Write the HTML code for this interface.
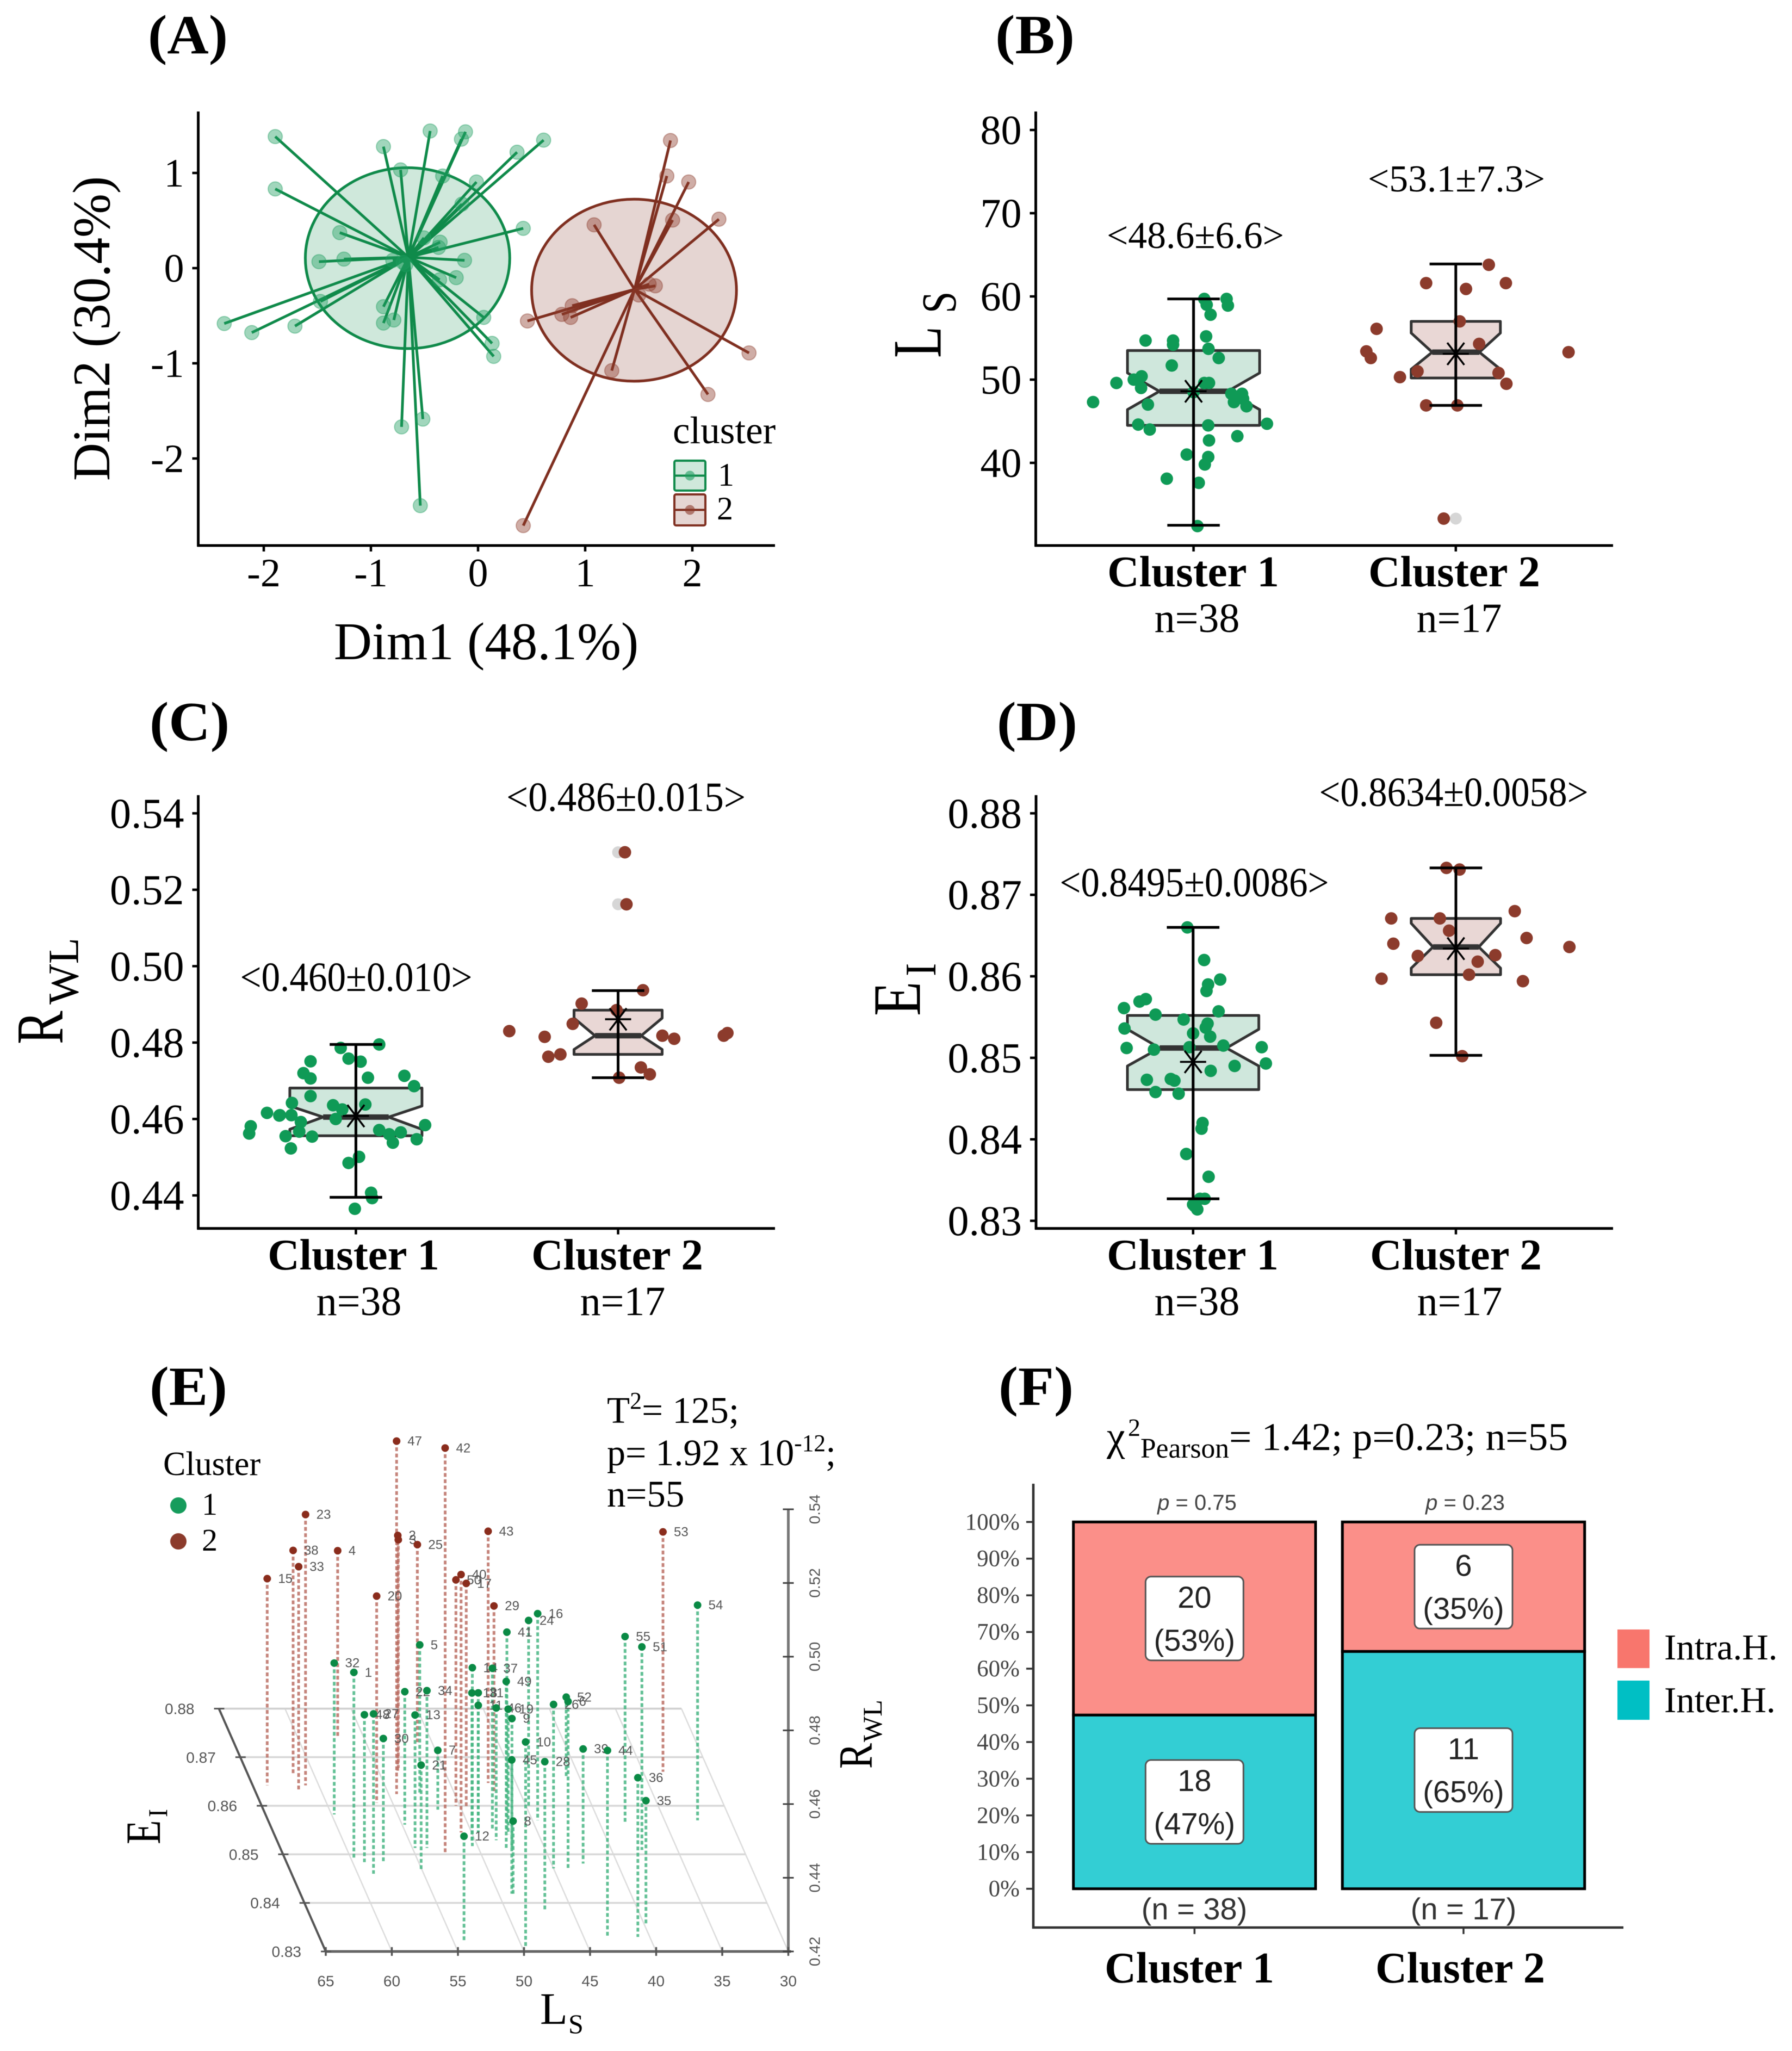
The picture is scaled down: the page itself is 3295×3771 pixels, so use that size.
<!DOCTYPE html>
<html lang="en">
<head>
<meta charset="utf-8">
<title>Cluster analysis figure</title>
<style>
html,body{margin:0;padding:0;background:#fff;}
svg{display:block;filter:blur(0.7px);}
text{font-family:"Liberation Serif","DejaVu Serif",serif;fill:#000;}
.b{font-weight:bold;}
.sans,.sans tspan{font-family:"Liberation Sans","DejaVu Sans",sans-serif;}
</style>
</head>
<body>
<svg id="fig" xmlns="http://www.w3.org/2000/svg" width="3295" height="3771" viewBox="0 0 3295 3771">
<rect width="3295" height="3771" fill="#fff"/>

<g id="panelA">
  <text class="b" x="272" y="98" font-size="102" textLength="147" lengthAdjust="spacingAndGlyphs">(A)</text>
  <text x="894" y="1212" font-size="97" text-anchor="middle">Dim1 (48.1%)</text>
  <text transform="translate(201,604) rotate(-90)" font-size="97" text-anchor="middle">Dim2 (30.4%)</text>
  <text x="1237" y="815" font-size="71">cluster</text>
  <text x="1320" y="893" font-size="60">1</text>
  <text x="1318" y="955" font-size="60">2</text>
</g>

<g id="panelB">
  <text class="b" x="1830" y="98" font-size="102" textLength="146" lengthAdjust="spacingAndGlyphs">(B)</text>
  <text transform="translate(1729.5,658) rotate(-90) scale(.75,1)" font-size="127">L</text>
  <text transform="translate(1757,576) rotate(-90) scale(.8,1)" font-size="90">S</text>
  <text x="2198" y="456" font-size="70" text-anchor="middle" textLength="326" lengthAdjust="spacingAndGlyphs">&lt;48.6±6.6&gt;</text>
  <text x="2678" y="352" font-size="70" text-anchor="middle" textLength="326" lengthAdjust="spacingAndGlyphs">&lt;53.1±7.3&gt;</text>
  <text class="b" x="2194" y="1078" font-size="81" text-anchor="middle">Cluster 1</text>
  <text class="b" x="2674" y="1078" font-size="81" text-anchor="middle">Cluster 2</text>
  <text x="2201" y="1162" font-size="76" text-anchor="middle">n=38</text>
  <text x="2683" y="1162" font-size="76" text-anchor="middle">n=17</text>
</g>

<g id="panelC">
  <text class="b" x="275" y="1361" font-size="102" textLength="147" lengthAdjust="spacingAndGlyphs">(C)</text>
  <text transform="translate(115,1920) rotate(-90) scale(.75,1)" font-size="123">R</text>
  <text transform="translate(143.5,1847) rotate(-90)" font-size="79">WL</text>
  <text x="655" y="1822" font-size="76" text-anchor="middle" textLength="427" lengthAdjust="spacingAndGlyphs">&lt;0.460±0.010&gt;</text>
  <text x="1151" y="1491" font-size="76" text-anchor="middle" textLength="440" lengthAdjust="spacingAndGlyphs">&lt;0.486±0.015&gt;</text>
  <text class="b" x="650" y="2334" font-size="81" text-anchor="middle">Cluster 1</text>
  <text class="b" x="1135" y="2334" font-size="81" text-anchor="middle">Cluster 2</text>
  <text x="660" y="2418" font-size="76" text-anchor="middle">n=38</text>
  <text x="1145" y="2418" font-size="76" text-anchor="middle">n=17</text>
</g>

<g id="panelD">
  <text class="b" x="1833" y="1361" font-size="102" textLength="148" lengthAdjust="spacingAndGlyphs">(D)</text>
  <text transform="translate(1691.6,1868) rotate(-90) scale(.83,1)" font-size="125">E</text>
  <text transform="translate(1720,1795) rotate(-90) scale(.9,1)" font-size="81">I</text>
  <text x="2196" y="1648" font-size="76" text-anchor="middle" textLength="495" lengthAdjust="spacingAndGlyphs">&lt;0.8495±0.0086&gt;</text>
  <text x="2673" y="1482" font-size="76" text-anchor="middle" textLength="495" lengthAdjust="spacingAndGlyphs">&lt;0.8634±0.0058&gt;</text>
  <text class="b" x="2193" y="2334" font-size="81" text-anchor="middle">Cluster 1</text>
  <text class="b" x="2677" y="2334" font-size="81" text-anchor="middle">Cluster 2</text>
  <text x="2201" y="2418" font-size="76" text-anchor="middle">n=38</text>
  <text x="2684" y="2418" font-size="76" text-anchor="middle">n=17</text>
</g>

<g id="panelE">
  <text class="b" x="275" y="2583" font-size="102" textLength="143" lengthAdjust="spacingAndGlyphs">(E)</text>
  <text x="300" y="2712" font-size="62">Cluster</text>
  <circle cx="328" cy="2768" r="15" fill="#169c5c"/>
  <circle cx="328" cy="2834" r="15" fill="#8c3b2c"/>
  <text x="371" y="2785" font-size="58">1</text>
  <text x="371" y="2851" font-size="58">2</text>
  <g>
    <text x="1116" y="2616" font-size="69">T<tspan font-size="44" dy="-26">2</tspan><tspan dy="26">= 125;</tspan></text>
    <text x="1116" y="2694" font-size="69" textLength="421" lengthAdjust="spacingAndGlyphs">p= 1.92 x 10<tspan font-size="44" dy="-26">-12</tspan><tspan dy="26">;</tspan></text>
    <text x="1116" y="2770" font-size="69">n=55</text>
  </g>
  <text transform="translate(293.8,3391) rotate(-90) scale(.8,1)" font-size="91">E</text>
  <text transform="translate(307,3341) rotate(-90) scale(.9,1)" font-size="50">I</text>
  <text x="993" y="3721" font-size="83">L</text>
  <text x="1045" y="3738" font-size="50">S</text>
  <text transform="translate(1603,3252) rotate(-90) scale(.8,1)" font-size="88">R</text>
  <text transform="translate(1621,3203) rotate(-90)" font-size="50">WL</text>
</g>

<g id="panelF">
  <text class="b" x="1836" y="2583" font-size="102" textLength="138" lengthAdjust="spacingAndGlyphs">(F)</text>
  <g>
    <text x="2035" y="2666" font-size="76">χ</text>
    <text x="2074" y="2640" font-size="46">2</text>
    <text x="2097" y="2680" font-size="52" textLength="163" lengthAdjust="spacingAndGlyphs">Pearson</text>
    <text x="2260" y="2666" font-size="72" textLength="623" lengthAdjust="spacingAndGlyphs">= 1.42; p=0.23; n=55</text>
  </g>
  <text class="b" x="2187" y="3645" font-size="80" text-anchor="middle">Cluster 1</text>
  <text class="b" x="2685" y="3645" font-size="80" text-anchor="middle">Cluster 2</text>
  <text class="sans" x="2201" y="2776" font-size="40" text-anchor="middle" style="fill:#444"><tspan font-style="italic">p</tspan> = 0.75</text>
  <text class="sans" x="2694" y="2776" font-size="40" text-anchor="middle" style="fill:#444"><tspan font-style="italic">p</tspan> = 0.23</text>
  <text class="sans" x="2196" y="3529" font-size="56" text-anchor="middle" style="fill:#333">(n = 38)</text>
  <text class="sans" x="2691" y="3529" font-size="56" text-anchor="middle" style="fill:#333">(n = 17)</text>
  <rect x="2974" y="2996" width="59" height="71" fill="#f8766d"/>
  <rect x="2974" y="3090" width="59" height="72" fill="#00bfc4"/>
  <text x="3060" y="3051" font-size="67">Intra.H.</text>
  <text x="3060" y="3148" font-size="67">Inter.H.</text>
</g>
</svg>

<script>
// ---------- Panel A data (PCA scores: Dim1, Dim2) ----------
const aXTicks = [-2, -1, 0, 1, 2];
const aYTicks = [1, 0, -1, -2];
const aCenter1 = [-0.65, 0.114];
const aCenter2 = [1.461, -0.223];
const aEllipse1 = [-0.658, 0.105, 0.954, 0.95];
const aEllipse2 = [1.456, -0.232, 0.956, 0.956];
const aPoints1 = [[-1.893,1.382],[-1.893,0.832],[-0.883,1.277],[-0.723,1.032],[-0.447,1.441],[-0.117,1.432],[-0.155,1.355],[-0.33,0.968],[-0.015,0.905],[0.364,1.218],[0.612,1.345],[-0.15,0.673],[0.422,0.418],[-1.291,0.373],[-1.485,0.068],[-1.252,0.095],[-0.126,0.082],[-0.204,-0.1],[-0.359,-0.123],[-0.505,0.318],[-0.354,0.273],[-0.369,0.218],[-0.796,0.082],[-0.699,0.059],[-1.471,-0.35],[-2.369,-0.582],[-2.112,-0.677],[-1.709,-0.609],[-0.883,-0.405],[-0.883,-0.577],[-0.786,-0.545],[0.053,-0.518],[0.131,-0.791],[0.146,-0.927],[-0.714,-1.668],[-0.515,-1.586],[-0.539,-2.495],[-0.675,0.036]];
const aPoints2 = [[1.796,1.341],[1.762,0.968],[1.966,0.905],[1.816,0.505],[2.248,0.514],[1.083,0.455],[1.655,-0.186],[1.597,-0.168],[1.5,-0.282],[0.461,-0.555],[0.782,-0.486],[0.879,-0.395],[0.864,-0.518],[2.529,-0.891],[1.248,-1.077],[2.146,-1.327],[0.422,-2.705]];

// ---------- Panel B data: [jitter, Ls] ----------
const bTicks = [80, 70, 60, 50, 40];
const bPoints1 = [[-.383,47.3],[-.294,49.6],[-.228,50.0],[-.198,50.4],[-.2,49.0],[-.174,47.0],[-.211,44.6],[-.167,44.0],[-.183,54.7],[-.078,54.7],[-.078,54.2],[-.083,51.7],[-.102,38.1],[-.026,41.0],[.015,32.4],[.02,37.6],[.043,39.8],[.056,40.7],[.059,42.7],[.056,44.5],[.041,59.7],[.05,59.0],[.065,57.8],[.126,59.7],[.131,58.9],[.048,55.2],[.057,53.7],[.096,52.6],[.059,49.6],[.041,49.6],[.144,48.3],[.185,48.3],[.154,47.3],[.189,47.7],[.202,46.8],[.28,44.7],[.167,43.2],[0,48.5]];
const bPoints2 = [[.126,63.8],[-.113,61.6],[.191,61.6],[.039,60.9],[.015,57.0],[-.302,56.1],[.089,54.3],[.43,53.3],[-.341,53.4],[-.324,52.6],[-.146,51.0],[-.213,50.3],[.163,50.8],[.193,49.5],[-.113,46.9],[.006,46.9],[-.046,33.3]];
const bOutliers2 = [33.3];
// box stats: q1, notchLow, median, notchHigh, q3, whiskerLow, whiskerHigh, mean
const bBox1 = [44.5, 46.4, 48.6, 50.8, 53.5, 32.5, 59.7, 48.6];
const bBox2 = [50.2, 51.25, 53.3, 55.6, 57.0, 46.9, 63.9, 53.1];

// ---------- Panel C data: [jitter, Rwl] ----------
const cTicks = ["0.54", "0.52", "0.50", "0.48", "0.46", "0.44"];
const cPoints1 = [[-.401,.4581],[-.407,.4562],[-.339,.4616],[-.29,.4610],[-.246,.4610],[-.244,.4642],[-.173,.4660],[-.173,.4751],[-.2,.4720],[-.173,.4706],[-.058,.4786],[-.028,.4758],[.018,.4750],[.089,.4795],[.046,.4708],[.185,.4713],[.222,.4686],[.036,.4638],[-.087,.4636],[-.052,.4625],[-.077,.4600],[-.21,.4592],[-.216,.4567],[-.268,.4555],[-.167,.4554],[-.248,.4523],[.089,.4571],[.127,.4560],[.171,.4565],[.141,.4538],[.232,.4547],[.264,.4584],[.012,.4501],[-.028,.4485],[.058,.4407],[.062,.4393],[-.004,.4365],[-.292,.4609]];
const cPoints2 = [[.026,.5298],[.032,.5162],[.095,.4937],[-.139,.4902],[-.006,.4885],[-.173,.4849],[-.415,.4830],[-.28,.4815],[-.266,.4763],[-.22,.4769],[.169,.4818],[.214,.4810],[.403,.4818],[.417,.4825],[.087,.4735],[.121,.4717],[.004,.4708]];
const cOutliers2 = [.5298, .5162];
const cBox1 = [.4556, .4573, .4605, .4634, .4681, .4395, .4795, .4608];
const cBox2 = [.4769, .4782, .4818, .4864, .4885, .4708, .4936, .4861];

// ---------- Panel D data: [jitter, Ei] ----------
const dTicks = ["0.88", "0.87", "0.86", "0.85", "0.84", "0.83"];
const dPoints1 = [[-.022,.8660],[.042,.8620],[.103,.8596],[.057,.8590],[.051,.8582],[-.18,.8572],[-.204,.8569],[-.263,.8561],[-.143,.8553],[.097,.8557],[-.036,.8547],[-.261,.8536],[.055,.8542],[.048,.8537],[0,.8530],[.065,.8526],[-.253,.8512],[-.149,.8510],[-.014,.8513],[.115,.8515],[.261,.8513],[.277,.8493],[.158,.8490],[.067,.8484],[-.176,.8473],[-.085,.8474],[-.071,.8472],[-.143,.8458],[-.055,.8456],[.036,.8420],[.032,.8413],[-.026,.8382],[.059,.8354],[.044,.8327],[0,.8320],[.016,.8314],[.026,.8327],[.006,.8318]];
const dPoints2 = [[-.036,.8733],[.014,.8731],[.224,.8680],[-.246,.8671],[-.061,.8671],[-.026,.8656],[-.238,.8640],[.269,.8647],[.432,.8636],[-.145,.8625],[.15,.8626],[.083,.8618],[.05,.8602],[-.283,.8597],[.255,.8594],[-.075,.8543],[.024,.8502]];
const dBox1 = [.8461, .8490, .8512, .8535, .8552, .8327, .8660, .8495];
const dBox2 = [.8602, .8610, .8636, .8665, .8671, .8503, .8733, .8634];

// ---------- Panel E data: [id, Ls, Ei, Rwl] ----------
const eLsTicks = [65, 60, 55, 50, 45, 40, 35, 30];
const eEiTicks = ["0.83", "0.84", "0.85", "0.86", "0.87", "0.88"];
const eRwlTicks = ["0.42", "0.44", "0.46", "0.48", "0.50", "0.52", "0.54"];
const ePoints2 = [["15",63.9,.8642,.4761],["38",61.6,.8663,.4810],["33",61.7,.8631,.4808],["23",61.0,.8642,.4935],["4",57.0,.8739,.4709],["20",56.2,.8606,.4761],["47",54.4,.8624,.5158],["2",53.6,.8668,.4844],["3",53.4,.8678,.4819],["25",51.1,.8731,.4736],["42",52.7,.8502,.5300],["50",50.3,.8600,.4813],["40",50.8,.8545,.4900],["17",49.6,.8595,.4810],["43",47.1,.8647,.4883],["29",47.0,.8626,.4708],["53",33.5,.8670,.4851]];
const ePoints1 = [["32",59.8,.8582,.4611],["1",59.8,.8490,.4707],["48",59.1,.8484,.4600],["27",58.8,.8460,.4634],["30",57.7,.8482,.4538],["5",52.6,.8627,.4601],["22",54.8,.8561,.4561],["34",53.9,.8513,.4627],["13",54.8,.8513,.4561],["7",51.8,.8592,.4361],["21",55.1,.8466,.4487],["12",54.2,.8321,.4485],["14",50.4,.8517,.4684],["18",50.3,.8525,.4605],["31",49.5,.8545,.4579],["11",49.5,.8545,.4545],["37",48.3,.8553,.4635],["49",47.9,.8513,.4652],["46",48.4,.8529,.4559],["19",47.3,.8541,.4540],["9",47.5,.8511,.4554],["45",49.0,.8419,.4563],["8",48.9,.8419,.4397],["10",49.7,.8311,.4754],["41",47.3,.8547,.4741],["24",44.8,.8600,.4703],["16",44.6,.8570,.4761],["26",45.0,.8471,.4645],["52",41.0,.8659,.4417],["28",47.1,.8382,.4607],["6",43.9,.8471,.4653],["39",42.6,.8481,.4511],["44",43.2,.8330,.4706],["55",38.1,.8563,.4708],["51",37.7,.8509,.4751],["36",40.9,.8330,.4632],["35",39.9,.8354,.4538],["54",32.5,.8570,.4784]];

// ---------- Panel F data ----------
const fTicks = [0, 10, 20, 30, 40, 50, 60, 70, 80, 90, 100];
const fIntra = [20, 6];
const fInter = [18, 11];

// ---------- helpers ----------
const NS = 'http://www.w3.org/2000/svg';
const GREEN = '#0f9a56', BROWN = '#8c3b2c';
function mk(parent, tag, attrs, name, txt) {
  const el = document.createElementNS(NS, tag);
  for (const k in attrs) el.setAttribute(k, attrs[k]);
  
  
  if (txt !== undefined) el.textContent = txt;
  parent.appendChild(el);
  return el;
}
function line(p, x1, y1, x2, y2, stroke, w, name, extra) {
  return mk(p, 'line', Object.assign({x1, y1, x2, y2, stroke, 'stroke-width': w}, extra || {}), name);
}
const panel = id => document.getElementById(id);

function axes(p, x0, top, yb, right) {
  line(p, x0, top, x0, yb + 2, '#000', 5, 'y-axis-line');
  line(p, x0 - 2, yb, right, yb, '#000', 5, 'x-axis-line');
}
function yTick(p, x0, y, label, size) {
  line(p, x0 - 11, y, x0, y, '#000', 4.5, 'y-tick');
  mk(p, 'text', {x: x0 - 26, y: y + size * .34, 'font-size': size, 'text-anchor': 'end'}, 'y-tick-label', label);
}

// ---------- Panel A ----------
(function () {
  const p = panel('panelA');
  const x = v => 879 + 197 * v;
  const y = v => 493 - 175 * v;
  const sx = 197, sy = 175;
  axes(p, 364.5, 205, 1003, 1425);
  aXTicks.forEach(t => {
    line(p, x(t), 1003, x(t), 1014, '#000', 4.5, 'x-tick');
    mk(p, 'text', {x: x(t), y: 1078, 'font-size': 74, 'text-anchor': 'middle'}, 'x-tick-label', String(t));
  });
  aYTicks.forEach(t => yTick(p, 364.5, y(t), String(t), 74));
  function cluster(pts, c, e, col, pointFill, nm) {
    mk(p, 'ellipse', {cx: x(e[0]), cy: y(e[1]), rx: e[2] * sx, ry: e[3] * sy, fill: col, 'fill-opacity': .2, stroke: col, 'stroke-width': 5}, nm + '-ellipse');
    pts.forEach(d => {
      line(p, x(c[0]), y(c[1]), x(d[0]), y(d[1]), col, 5, nm + '-spoke');
    });
    pts.forEach(d => {
      mk(p, 'circle', {cx: x(d[0]), cy: y(d[1]), r: 13, fill: pointFill, 'fill-opacity': .42, stroke: pointFill, 'stroke-opacity': .4, 'stroke-width': 2}, nm + '-point');
    });
  }
  cluster(aPoints1, aCenter1, aEllipse1, '#0f8a4a', '#1f9d60', 'cluster-1');
  cluster(aPoints2, aCenter2, aEllipse2, '#7f2f20', '#8c3b2c', 'cluster-2');
  // legend keys
  [[847, 55, '#0f8a4a', '#1f9d60', 'legend-key-1'], [909, 57, '#7f2f20', '#8c3b2c', 'legend-key-2']].forEach(k => {
    mk(p, 'rect', {x: 1240, y: k[0], width: 57, height: k[1], rx: 3, fill: k[2], 'fill-opacity': .2, stroke: k[2], 'stroke-width': 4}, k[4]);
    line(p, 1240, k[0] + k[1] / 2, 1297, k[0] + k[1] / 2, k[2], 4, k[4] + '-line');
    mk(p, 'circle', {cx: 1268.5, cy: k[0] + k[1] / 2, r: 9, fill: k[3], 'fill-opacity': .6}, k[4] + '-dot');
  });
})();

// ---------- Box panels ----------
function boxPanel(cfg) {
  const p = panel(cfg.id);
  const y = cfg.y;
  axes(p, cfg.x0, cfg.top, cfg.yb, cfg.right);
  cfg.ticks.forEach(t => yTick(p, cfg.x0, y(parseFloat(t)), String(t), cfg.tickSize));
  [cfg.cx1, cfg.cx2].forEach(cx => line(p, cx, cfg.yb, cx, cfg.yb + 11, '#000', 4.5, 'x-tick'));
  const unit = cfg.cx2 - cfg.cx1;
  function box(cx, b, hw, nw, fill, nm, pts, col, out) {
    const [q1, nlo, med, nhi, q3, wlo, whi, mean] = b;
    const l = cx - hw * unit, r = cx + hw * unit, nl = cx - nw * unit, nr = cx + nw * unit;
    const cap = 0.1 * unit;
    const d = `M${l},${y(q3)}L${r},${y(q3)}L${r},${y(nhi)}L${nr},${y(med)}L${r},${y(nlo)}L${r},${y(q1)}L${l},${y(q1)}L${l},${y(nlo)}L${nl},${y(med)}L${l},${y(nhi)}Z`;
    mk(p, 'path', {d, fill, stroke: '#333', 'stroke-width': 5, 'stroke-linejoin': 'round'}, nm + '-box');
    line(p, nl, y(med), nr, y(med), '#333', 10, nm + '-median');
    (out || []).forEach(v => mk(p, 'circle', {cx, cy: y(v), r: 11, fill: '#d6d6d6'}, nm + '-outlier'));
    pts.forEach(d2 => mk(p, 'circle', {cx: cx + d2[0] * unit, cy: y(d2[1]), r: 11.5, fill: col}, nm + '-point'));
    line(p, cx, y(wlo), cx, y(whi), '#000', 5, nm + '-whisker');
    line(p, cx - cap, y(whi), cx + cap, y(whi), '#000', 5, nm + '-cap-high');
    line(p, cx - cap, y(wlo), cx + cap, y(wlo), '#000', 5, nm + '-cap-low');
    const m = y(mean), s = 24;
    line(p, cx - s, m, cx + s, m, '#000', 3.5, nm + '-mean-marker');
    line(p, cx - s * .65, m - s * .85, cx + s * .65, m + s * .85, '#000', 3.5, nm + '-mean-marker');
    line(p, cx - s * .65, m + s * .85, cx + s * .65, m - s * .85, '#000', 3.5, nm + '-mean-marker');
  }
  box(cfg.cx1, cfg.box1, cfg.hw1, cfg.nw1, '#cfe7dc', 'cluster-1', cfg.pts1, GREEN);
  box(cfg.cx2, cfg.box2, cfg.hw2, cfg.nw2, '#e9d7d5', 'cluster-2', cfg.pts2, BROWN, cfg.out2);
}

boxPanel({id: 'panelB', x0: 1904.5, top: 205, yb: 1003, right: 2966, cx1: 2194.6, cx2: 2676.8, tickSize: 76,
  y: v => 698 - 15.3 * (v - 50), ticks: bTicks, pts1: bPoints1, pts2: bPoints2, out2: bOutliers2,
  box1: bBox1, box2: bBox2, hw1: .252, nw1: .13, hw2: .17, nw2: .09});
boxPanel({id: 'panelC', x0: 364.5, top: 1462, yb: 2258.6, right: 1425, cx1: 654.4, cx2: 1136.5, tickSize: 78,
  y: v => 2057.4 - 7025 * (v - .46), ticks: cTicks, pts1: cPoints1, pts2: cPoints2, out2: cOutliers2,
  box1: cBox1, box2: cBox2, hw1: .252, nw1: .125, hw2: .168, nw2: .088});
boxPanel({id: 'panelD', x0: 1905, top: 1462, yb: 2258.6, right: 2966, cx1: 2193.8, cx2: 2677, tickSize: 78,
  y: v => 1944.9 - 14984 * (v - .85), ticks: dTicks, pts1: dPoints1, pts2: dPoints2,
  box1: dBox1, box2: dBox2, hw1: .25, nw1: .127, hw2: .17, nw2: .087});

// ---------- Panel E (3D scatter) ----------
(function () {
  const p = panel('panelE');
  const X = (L, E) => 599 + (65 - L) * 24.3 - (E - .83) * 3930;
  const Y = (E, R) => 3588 - (E - .83) * 8930 - (R - .42) * 6775;
  // floor grid
  eLsTicks.forEach(L => {
    line(p, X(L, .83), Y(.83, .42), X(L, .88), Y(.88, .42), '#dcdcdc', 2.5, 'floor-grid-ls');
  });
  eEiTicks.forEach(t => {
    const E = parseFloat(t);
    if (E > .83) line(p, X(65, E), Y(E, .42), X(30, E), Y(E, .42), E > .875 ? '#cfcfcf' : '#d8d8d8', 3.5, 'floor-grid-ei');
  });
  // axes
  line(p, X(65, .83), Y(.83, .42), X(65, .88), Y(.88, .42), '#555', 4, 'ei-axis-line');
  line(p, X(65, .83), Y(.83, .42), X(30, .83) + 5, Y(.83, .42), '#666', 5, 'ls-axis-line');
  line(p, X(30, .83), Y(.83, .42), X(30, .83), Y(.83, .54), '#777', 5, 'rwl-axis-line');
  eLsTicks.forEach(L => {
    line(p, X(L, .83), 3580, X(L, .83), 3596, '#555', 3.5, 'ls-tick');
    mk(p, 'text', {class: 'sans', x: X(L, .83), y: 3652, 'font-size': 28, 'text-anchor': 'middle', style: 'fill:#555'}, 'ls-tick-label', String(L));
  });
  eEiTicks.forEach(t => {
    const E = parseFloat(t), x = X(65, E), y = Y(E, .42);
    line(p, x - 9, y, x + 10, y, '#555', 3, 'ei-tick');
    mk(p, 'text', {class: 'sans', x: x - 45, y: y + 10, 'font-size': 28, 'text-anchor': 'end', style: 'fill:#555'}, 'ei-tick-label', t);
  });
  eRwlTicks.forEach(t => {
    const R = parseFloat(t), x = X(30, .83), y = Y(.83, R);
    line(p, x - 10, y, x + 10, y, '#444', 3, 'rwl-tick');
    mk(p, 'text', {class: 'sans', transform: `translate(${x + 58},${y}) rotate(-90)`, 'font-size': 28, 'text-anchor': 'middle', style: 'fill:#555'}, 'rwl-tick-label', t);
  });
  function series(pts, col, dash, nm) {
    pts.forEach(d => {
      const x = X(d[1], d[2]);
      line(p, x, Y(d[2], d[3]), x, Y(d[2], .42), dash, 5, nm + '-drop-line', {'stroke-dasharray': '7 4.5', 'stroke-opacity': .85});
    });
    pts.forEach(d => {
      const x = X(d[1], d[2]), y = Y(d[2], d[3]);
      mk(p, 'circle', {cx: x, cy: y, r: 7, fill: col}, nm + '-point');
      mk(p, 'text', {class: 'sans', x: x + 20, y: y + 8, 'font-size': 24, style: 'fill:#555'}, nm + '-point-label', d[0]);
    });
  }
  series(ePoints2, '#8a2c1c', '#bb6e64', 'cluster-2');
  series(ePoints1, '#0a8a45', '#47b583', 'cluster-1');
})();

// ---------- Panel F ----------
(function () {
  const p = panel('panelF');
  const y = v => 3472.7 - 6.744 * v;
  const barX = [[1973.7, 445.3], [2468.3, 445.4]];
  line(p, 1900, 2728, 1900, 3546, '#333', 4.5, 'y-axis-line');
  line(p, 1898, 3544, 2985, 3544, '#333', 4.5, 'x-axis-line');
  fTicks.forEach(t => {
    line(p, 1887, y(t), 1900, y(t), '#333', 3.5, 'y-tick');
    mk(p, 'text', {x: 1875, y: y(t) + 14, 'font-size': 43, 'text-anchor': 'end', style: 'fill:#444'}, 'y-tick-label', t + '%');
  });
  fIntra.forEach((intra, i) => {
    const inter = fInter[i], total = intra + inter;
    const split = inter / total * 100;
    const bx = barX[i][0], bw = barX[i][1], cx = bx + bw / 2;
    mk(p, 'rect', {x: bx, y: y(split), width: bw, height: y(0) - y(split), fill: '#33ced4', stroke: '#000', 'stroke-width': 5}, 'bar-inter-cluster-' + (i + 1));
    mk(p, 'rect', {x: bx, y: y(100), width: bw, height: y(split) - y(100), fill: '#fb8f89', stroke: '#000', 'stroke-width': 5}, 'bar-intra-cluster-' + (i + 1));
    line(p, cx, 3544, cx, 3556, '#333', 3.5, 'x-tick');
    [[intra, (100 + split) / 2, 'intra'], [inter, split / 2, 'inter']].forEach(s => {
      const my = y(s[1]);
      mk(p, 'rect', {x: cx - 90, y: my - 77, width: 180, height: 154, rx: 10, fill: '#fff', stroke: '#555', 'stroke-width': 3}, 'count-box-' + s[2]);
      mk(p, 'text', {class: 'sans', x: cx, y: my - 20, 'font-size': 56, 'text-anchor': 'middle', style: 'fill:#222'}, 'count-label-' + s[2], String(s[0]));
      mk(p, 'text', {class: 'sans', x: cx, y: my + 59, 'font-size': 56, 'text-anchor': 'middle', style: 'fill:#222'}, 'percent-label-' + s[2], '(' + Math.round(s[0] / total * 100) + '%)');
    });
  });
})();
</script>
</body>
</html>
